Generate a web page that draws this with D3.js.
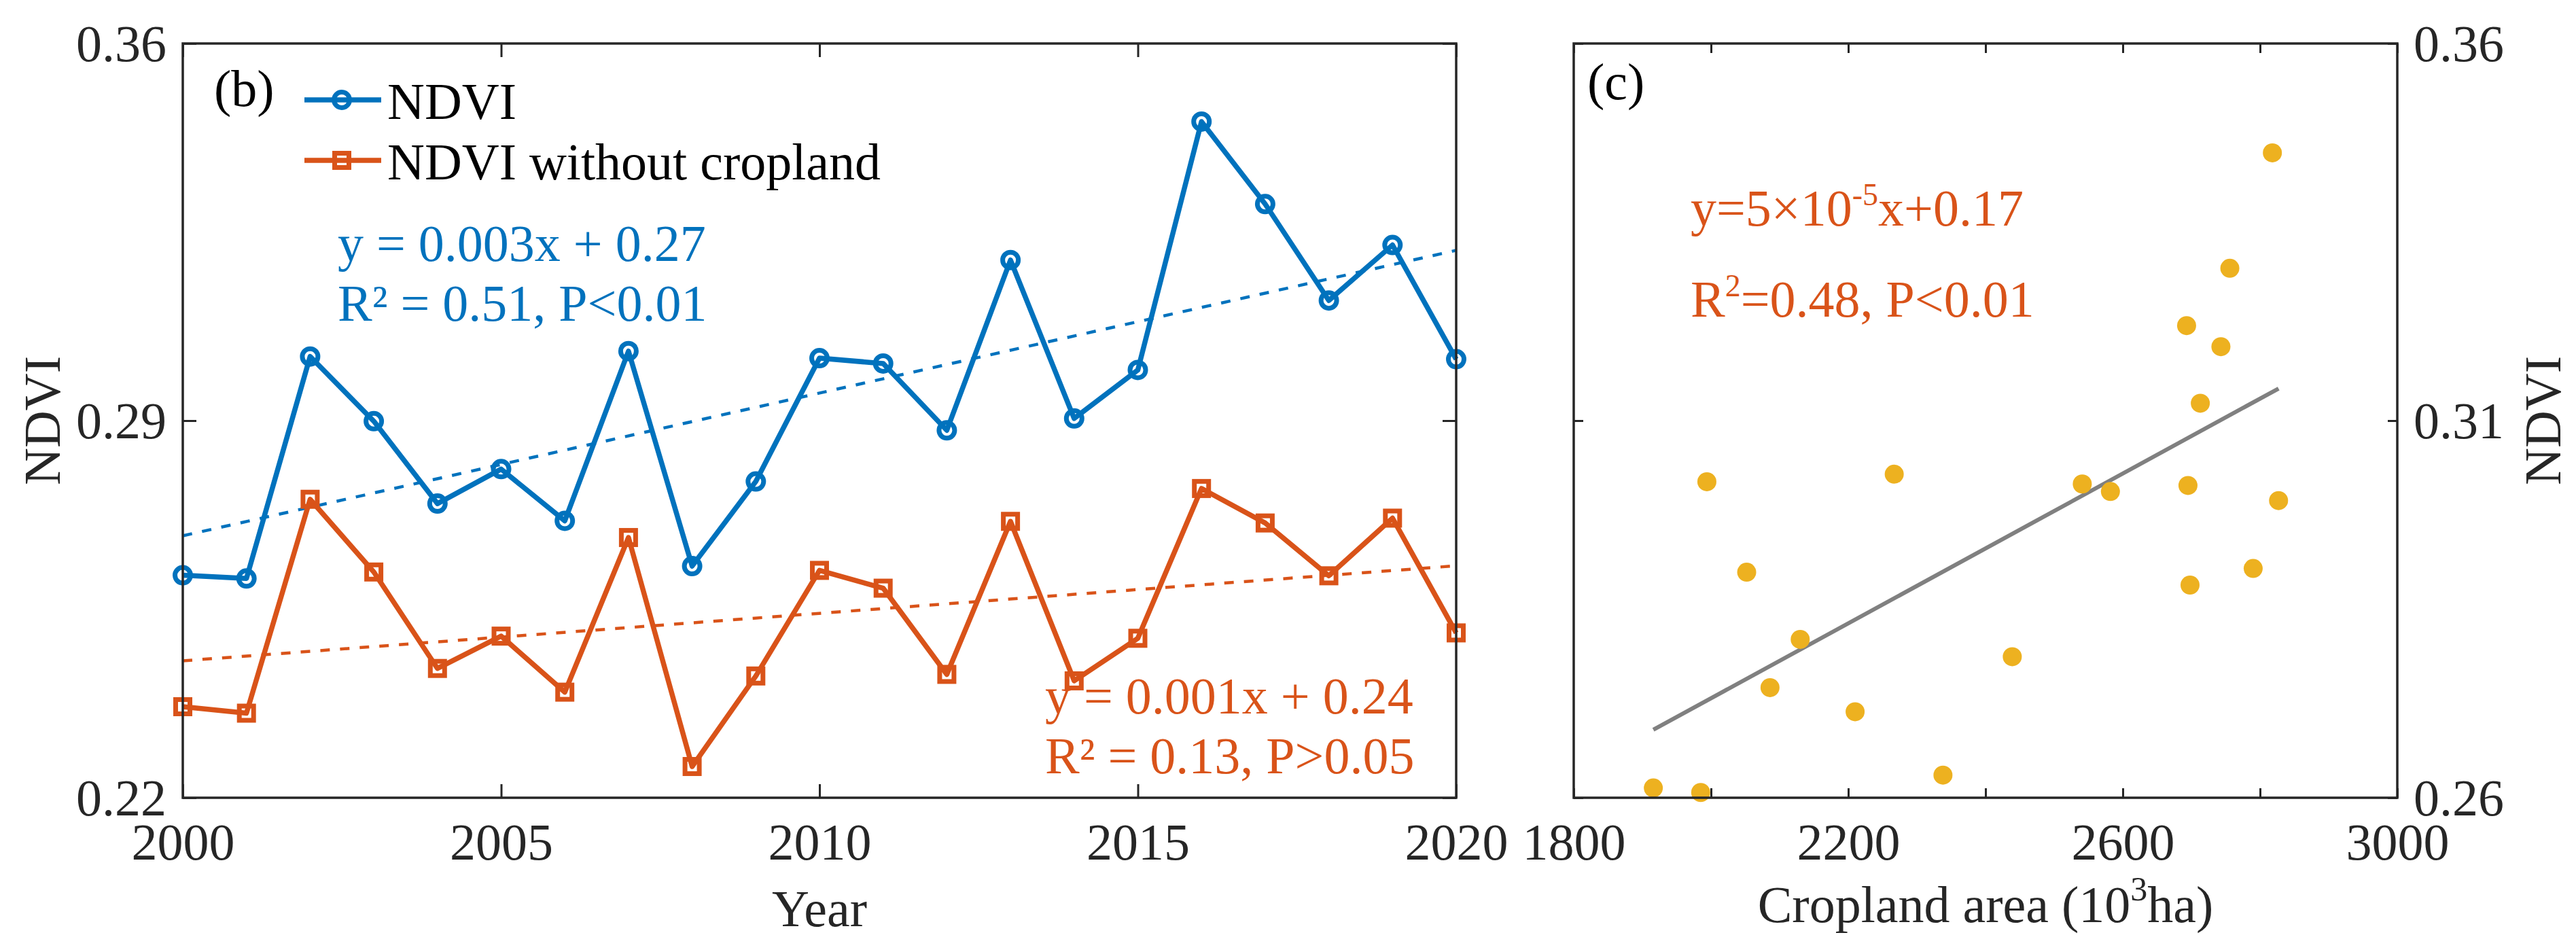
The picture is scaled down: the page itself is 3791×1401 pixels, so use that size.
<!DOCTYPE html>
<html>
<head>
<meta charset="utf-8">
<script src="https://cdn.jsdelivr.net/npm/d3@7"></script>
<style>
  body { margin: 0; background: #fff; }
  svg text { font-family: "Liberation Serif", "Times New Roman", serif; }
</style>
</head>
<body>
<svg id="chart" width="3791" height="1401"></svg>
<script>
const YEARS = d3.range(2000, 2021);
const NDVI = [0.2613, 0.2607, 0.3019, 0.2899, 0.2746, 0.2810, 0.2714, 0.3029, 0.2630, 0.2787,
  0.3016, 0.3006, 0.2882, 0.3198, 0.2904, 0.2994, 0.3455, 0.3302, 0.3123, 0.3226, 0.3014];
const NDVI_NO_CROP = [0.2369, 0.2357, 0.2754, 0.2619, 0.2440, 0.2500, 0.2396, 0.2683, 0.2258, 0.2426,
  0.2622, 0.2589, 0.2429, 0.2713, 0.2417, 0.2496, 0.2774, 0.2710, 0.2612, 0.2719, 0.2506];
const CROPLAND = [1916, 1985, 1994, 2052, 2086, 2130, 2210, 2267, 2338, 2439,
  2541, 2582, 2698, 2743, 2790, 2827, 2818, 2756, 2713, 2693, 2695];

const YEAR_TICKS = [2000, 2005, 2010, 2015, 2020];
const LEFT_Y_TICKS = [0.22, 0.29, 0.36];
const AREA_TICKS = [1800, 2000, 2200, 2400, 2600, 2800, 3000];
const AREA_LABELS = [1800, 2200, 2600, 3000];
const RIGHT_Y_TICKS = [0.26, 0.31, 0.36];

const BLUE = '#0072BD', ORANGE = '#D95319', YELLOW = '#EDB120', GREY = '#808080', AX = '#262626';
const FS = 76;
const LW = 7.5;

const svg = d3.select('#chart');

function linfit(xs, ys) {
  const mx = d3.mean(xs), my = d3.mean(ys);
  const b = d3.sum(xs, (x, i) => (x - mx) * (ys[i] - my)) / d3.sum(xs, x => (x - mx) ** 2);
  return v => my + b * (v - mx);
}

// frame with inward ticks on all four sides, MATLAB style
function frame(x, y, xt, yt, tick, labelX, yRight) {
  const [x0, x1] = x.range(), [y0, y1] = y.range();
  const g = svg.append('g');
  const style = sel => {
    sel.select('.domain').remove();
    sel.selectAll('line').attr('stroke', AX).attr('stroke-width', 3);
    sel.selectAll('text').attr('fill', AX).attr('font-size', FS).attr('font-family', null);
  };
  g.append('g').attr('class', 'bx').attr('transform', `translate(0,${y0})`)
    .call(d3.axisBottom(x).tickValues(xt).tickSize(-tick).tickPadding(37)
      .tickFormat(d => labelX.includes(d) ? d : ''))
    .call(style);
  g.append('g').attr('transform', `translate(0,${y1})`)
    .call(d3.axisTop(x).tickValues(xt).tickSize(-tick).tickFormat(''))
    .call(style);
  const fmt = d3.format('.2f');
  g.append('g').attr('class', 'vy').attr('transform', `translate(${x0},0)`)
    .call(d3.axisLeft(y).tickValues(yt).tickSize(-tick).tickPadding(24).tickFormat(yRight ? '' : fmt))
    .call(style);
  g.append('g').attr('class', 'vy').attr('transform', `translate(${x1},0)`)
    .call(d3.axisRight(y).tickValues(yt).tickSize(-tick).tickPadding(24).tickFormat(yRight ? fmt : ''))
    .call(style);
  g.selectAll('.vy text').attr('dy', '0.34em');
  g.append('rect').attr('x', x0).attr('y', y1).attr('width', x1 - x0).attr('height', y0 - y1)
    .attr('fill', 'none').attr('stroke', AX).attr('stroke-width', 3.5);
}

// ---- panel (b)
const xb = d3.scaleLinear().domain([2000, 2020]).range([269, 2143]);
const yb = d3.scaleLinear().domain([0.22, 0.36]).range([1174, 64]);

const fitB = linfit(YEARS, NDVI), fitO = linfit(YEARS, NDVI_NO_CROP);
[[fitB, BLUE], [fitO, ORANGE]].forEach(([f, c]) => {
  svg.append('line').attr('x1', xb(2000)).attr('x2', xb(2020))
    .attr('y1', yb(f(2000))).attr('y2', yb(f(2020)))
    .attr('stroke', c).attr('stroke-width', 4.5).attr('stroke-dasharray', '14,15');
});

const lineGen = d3.line().x((d, i) => xb(YEARS[i])).y(d => yb(d));
svg.append('path').attr('d', lineGen(NDVI_NO_CROP)).attr('fill', 'none')
  .attr('stroke', ORANGE).attr('stroke-width', LW).attr('stroke-linejoin', 'round');
svg.append('g').selectAll('rect').data(NDVI_NO_CROP).join('rect')
  .attr('x', (d, i) => xb(YEARS[i]) - 10.5).attr('y', d => yb(d) - 10.5)
  .attr('width', 21).attr('height', 21).attr('fill', 'none')
  .attr('stroke', ORANGE).attr('stroke-width', 7);

svg.append('path').attr('d', lineGen(NDVI)).attr('fill', 'none')
  .attr('stroke', BLUE).attr('stroke-width', LW).attr('stroke-linejoin', 'round');
svg.append('g').selectAll('circle').data(NDVI).join('circle')
  .attr('cx', (d, i) => xb(YEARS[i])).attr('cy', d => yb(d)).attr('r', 11.5)
  .attr('fill', 'none').attr('stroke', BLUE).attr('stroke-width', 7);

frame(xb, yb, YEAR_TICKS, LEFT_Y_TICKS, 20, YEAR_TICKS, false);

svg.append('text').attr('x', 315).attr('y', 156).attr('font-size', FS).attr('fill', '#000').text('(b)');

// legend
const legend = [
  { label: 'NDVI', color: BLUE, shape: 'circle', y: 147 },
  { label: 'NDVI without cropland', color: ORANGE, shape: 'square', y: 236 }
];
legend.forEach(l => {
  svg.append('line').attr('x1', 448).attr('x2', 561).attr('y1', l.y).attr('y2', l.y)
    .attr('stroke', l.color).attr('stroke-width', LW);
  if (l.shape === 'circle') {
    svg.append('circle').attr('cx', 503).attr('cy', l.y).attr('r', 11.5)
      .attr('fill', 'none').attr('stroke', l.color).attr('stroke-width', 7);
  } else {
    svg.append('rect').attr('x', 492.5).attr('y', l.y - 10.5).attr('width', 21).attr('height', 21)
      .attr('fill', 'none').attr('stroke', l.color).attr('stroke-width', 7);
  }
  svg.append('text').attr('x', 570).attr('y', l.y + 28).attr('font-size', FS)
    .attr('fill', '#000').text(l.label);
});

svg.append('text').attr('x', 497).attr('y', 384).attr('font-size', FS).attr('fill', BLUE)
  .text('y = 0.003x + 0.27');
svg.append('text').attr('x', 497).attr('y', 472).attr('font-size', FS).attr('fill', BLUE)
  .text('R² = 0.51, P<0.01');
svg.append('text').attr('x', 1538).attr('y', 1050).attr('font-size', FS).attr('fill', ORANGE)
  .text('y = 0.001x + 0.24');
svg.append('text').attr('x', 1538).attr('y', 1138).attr('font-size', FS).attr('fill', ORANGE)
  .text('R² = 0.13, P>0.05');

svg.append('text').attr('x', (269 + 2143) / 2).attr('y', 1363).attr('text-anchor', 'middle')
  .attr('font-size', FS).attr('fill', AX).text('Year');
svg.append('text').attr('transform', 'translate(88,619) rotate(-90)').attr('text-anchor', 'middle')
  .attr('font-size', FS).attr('fill', AX).text('NDVI');

// ---- panel (c)
const xc = d3.scaleLinear().domain([1800, 3000]).range([2316, 3528]);
const yc = d3.scaleLinear().domain([0.26, 0.36]).range([1174, 64]);

const fitC = linfit(CROPLAND, NDVI);
const [aMin, aMax] = d3.extent(CROPLAND);
svg.append('line').attr('x1', xc(aMin)).attr('x2', xc(aMax))
  .attr('y1', yc(fitC(aMin))).attr('y2', yc(fitC(aMax)))
  .attr('stroke', GREY).attr('stroke-width', 6);

svg.append('g').selectAll('circle').data(CROPLAND).join('circle')
  .attr('cx', d => xc(d)).attr('cy', (d, i) => yc(NDVI[i])).attr('r', 14).attr('fill', YELLOW);

frame(xc, yc, AREA_TICKS, RIGHT_Y_TICKS, 14, AREA_LABELS, true);

svg.append('text').attr('x', 2336).attr('y', 146).attr('font-size', FS).attr('fill', '#000').text('(c)');

const eq = svg.append('text').attr('x', 2488).attr('y', 332).attr('font-size', FS).attr('fill', ORANGE);
eq.append('tspan').text('y=5×10');
eq.append('tspan').attr('font-size', 46).attr('dy', -30).text('-5');
eq.append('tspan').attr('dy', 30).text('x+0.17');
const r2 = svg.append('text').attr('x', 2488).attr('y', 466).attr('font-size', FS).attr('fill', ORANGE);
r2.append('tspan').text('R');
r2.append('tspan').attr('font-size', 46).attr('dy', -30).text('2');
r2.append('tspan').attr('dy', 30).text('=0.48, P<0.01');

const xl = svg.append('text').attr('x', 2922).attr('y', 1357).attr('text-anchor', 'middle')
  .attr('font-size', FS).attr('fill', AX);
xl.append('tspan').text('Cropland area (10');
xl.append('tspan').attr('font-size', 50).attr('dy', -32).text('3');
xl.append('tspan').attr('dy', 32).text('ha)');

svg.append('text').attr('transform', 'translate(3768,619) rotate(-90)').attr('text-anchor', 'middle')
  .attr('font-size', FS).attr('fill', AX).text('NDVI');
</script>
</body>
</html>
